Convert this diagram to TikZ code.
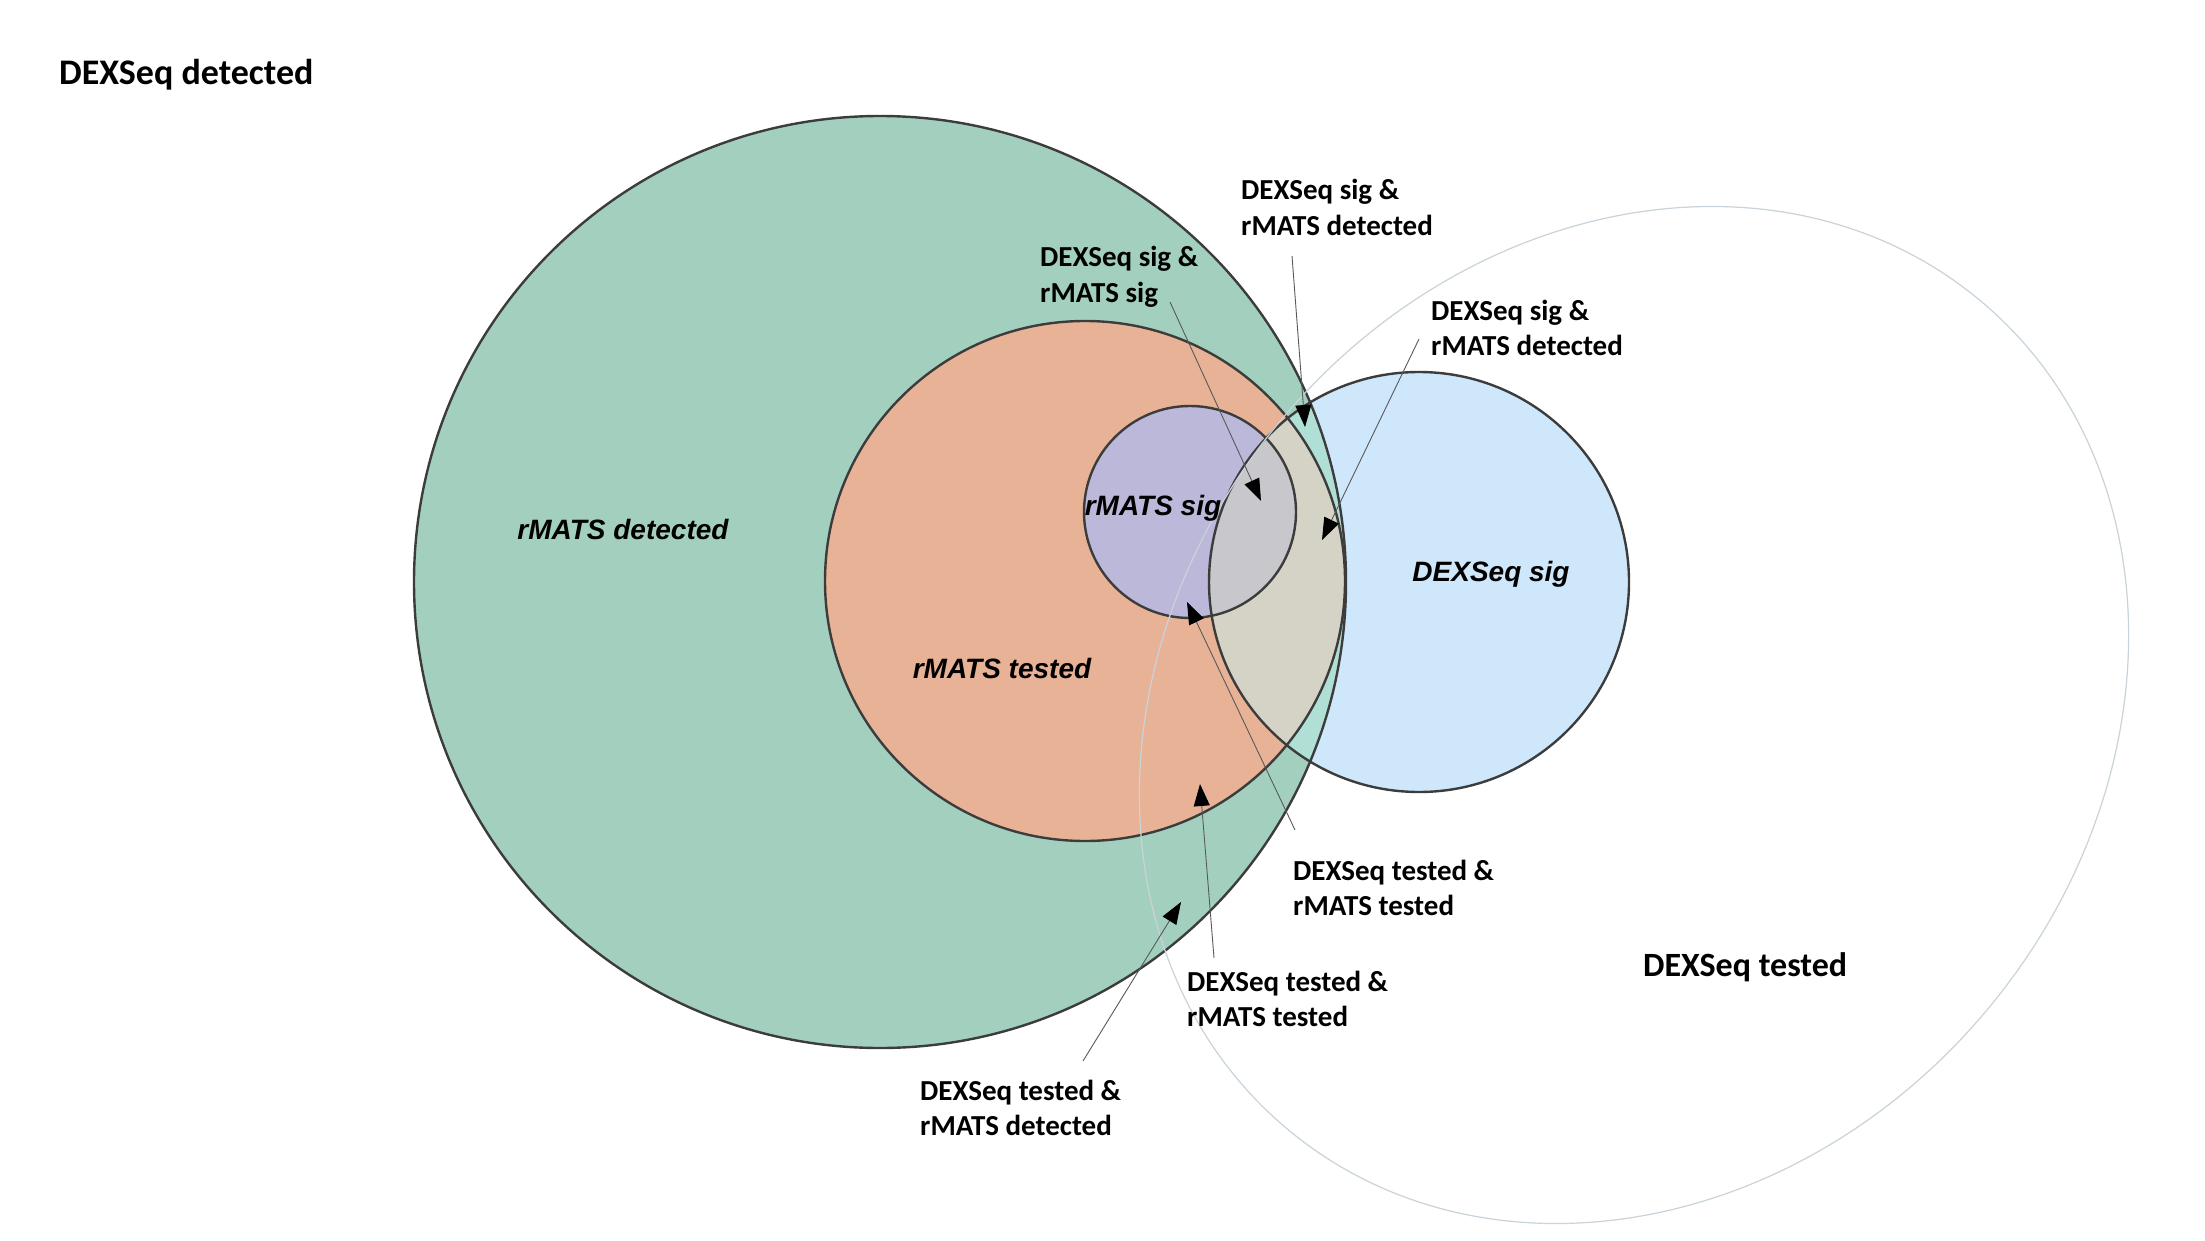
\documentclass[tikz,border=0pt]{standalone}
\usepackage{fontspec}
\setmainfont{Carlito}
\newfontfamily\arialfont{Liberation Sans}
\usetikzlibrary{arrows.meta}
\definecolor{gfill}{HTML}{A3D0BE}
\definecolor{ofill}{HTML}{E8B297}
\definecolor{pfill}{HTML}{BCB8DA}
\definecolor{bfill}{HTML}{CFE7FB}
\definecolor{bgfill}{HTML}{B0E0D5}
\definecolor{bofill}{HTML}{D4D3C6}
\definecolor{bpfill}{HTML}{C8C8CC}
\definecolor{edge}{HTML}{3C3C3C}
\definecolor{testedline}{HTML}{C9D3DA}
\newcommand\twoline[2]{\begin{tabular}[t]{@{}l@{}}#1\\#2\end{tabular}}
\begin{document}
\begin{tikzpicture}[x=1pt,y=-1pt,
  venn/.style={draw=edge, line width=2.4pt},
  inlabel/.style={font=\arialfont\bfseries\itshape\fontsize{28}{34}\selectfont, inner sep=0pt, anchor=base},
  note/.style={font=\bfseries\fontsize{29}{35.5}\selectfont, inner sep=0pt, anchor=base west},
  biglabel/.style={font=\bfseries\fontsize{#1}{42}\selectfont, inner sep=0pt, anchor=base west},
  pointer/.style={draw=black!65, line width=0.9pt, -{Triangle[length=22pt,width=16pt,color=black]}}]
\useasboundingbox (0,0) rectangle (2205,1241);
\fill[white] (0,0) rectangle (2205,1241);

\coordinate (cG) at (880,582);
\coordinate (cO) at (1085,581);
\coordinate (cP) at (1190,512);
\coordinate (cB) at (1419,582);
\coordinate (cT) at (1634,715);

% fills
\fill[gfill] (cG) circle (466);
\fill[ofill] (cO) circle (260);
\fill[pfill] (cP) circle (106);
\fill[bfill] (cB) circle (210);
\begin{scope}
  \clip (cB) circle (210);
  \fill[bgfill] (cG) circle (466);
  \fill[bofill] (cO) circle (260);
  \fill[bpfill] (cP) circle (106);
\end{scope}

% outlines
\draw[venn] (cG) circle (466);
\draw[venn] (cO) circle (260);
\draw[venn] (cP) circle (106);
\draw[venn] (cB) circle (210);
\draw[testedline, line width=1.2pt, rotate around={50:(cT)}] (cT) ellipse [x radius=540, y radius=460];

% set labels
\node[inlabel] (tRD) at (623,539) {rMATS detected};
\node[inlabel] (tRT) at (1002,678) {rMATS tested};
\node[inlabel] (tRS) at (1153,515) {rMATS sig};
\node[inlabel] (tDS) at (1491,581) {DEXSeq sig};
\node[biglabel=36] (tDD) at (59,85) {DEXSeq detected};
\node[biglabel=34] (tDT) at (1643,976) {DEXSeq tested};

% annotation labels
\node[note] (n1) at (1241,200) {\twoline{DEXSeq sig \&}{rMATS detected}};
\node[note] (n2) at (1040,267) {\twoline{DEXSeq sig \&}{rMATS sig}};
\node[note] (n3) at (1431,320) {\twoline{DEXSeq sig \&}{rMATS detected}};
\node[note] (n4) at (1293,880) {\twoline{DEXSeq tested \&}{rMATS tested}};
\node[note] (n5) at (1187,991) {\twoline{DEXSeq tested \&}{rMATS tested}};
\node[note] (n6) at (920,1100) {\twoline{DEXSeq tested \&}{rMATS detected}};

% pointers
\coordinate (a1s) at (1292,256); \coordinate (a1e) at (1305,427);
\coordinate (a2s) at (1170,302); \coordinate (a2e) at (1261,501);
\coordinate (a3s) at (1419,339); \coordinate (a3e) at (1322,540);
\coordinate (a4s) at (1295,830); \coordinate (a4e) at (1187,602);
\coordinate (a5s) at (1214,958); \coordinate (a5e) at (1200,784);
\coordinate (a6s) at (1083,1061); \coordinate (a6e) at (1181,902);
\draw[pointer] (a1s) -- (a1e);
\draw[pointer] (a2s) -- (a2e);
\draw[pointer] (a3s) -- (a3e);
\draw[pointer] (a4s) -- (a4e);
\draw[pointer] (a5s) -- (a5e);
\draw[pointer] (a6s) -- (a6e);
\end{tikzpicture}
\end{document}
